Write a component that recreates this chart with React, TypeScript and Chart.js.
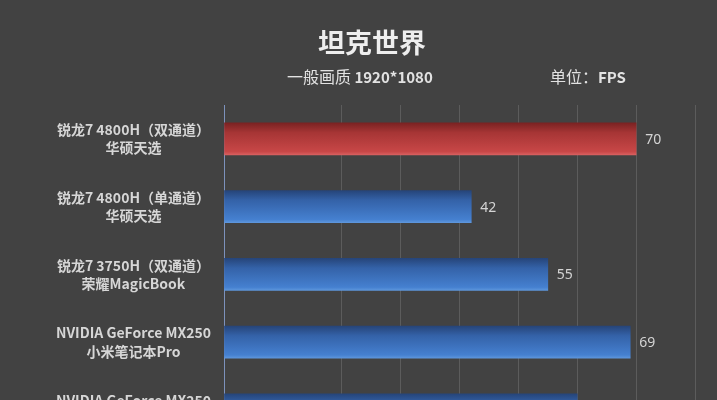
import React, { useEffect, useRef } from "react";
import { Chart, registerables } from "chart.js";

Chart.register(...registerables);

const categories: string[][] = [
  ["锐龙7 4800H（双通道）", "华硕天选"],
  ["锐龙7 4800H（单通道）", "华硕天选"],
  ["锐龙7 3750H（双通道）", "荣耀MagicBook"],
  ["NVIDIA GeForce MX250", "小米笔记本Pro"],
  ["NVIDIA GeForce MX250", ""],
];
const fpsValues: number[] = [70, 42, 55, 69, 60];
const highlightIndex = 0;

const chartTitle = "坦克世界";
const subtitleLeftA = "一般画质";
const subtitleLeftB = " 1920*1080";
const subtitleRightA = "单位：";
const subtitleRightB = "FPS";

const CJK = '"Noto Sans CJK SC", "Noto Sans", sans-serif';

const headerPlugin = {
  id: "header",
  afterDraw(chart: any) {
    const ctx = chart.ctx;
    ctx.save();
    ctx.fillStyle = "#eeeeee";
    ctx.textBaseline = "middle";
    ctx.textAlign = "center";
    ctx.font = `bold 27px ${CJK}`;
    ctx.fillText(chartTitle, 372, 43);

    const drawPair = (a: string, b: string, x: number, y: number) => {
      ctx.textAlign = "left";
      ctx.font = `16px ${CJK}`;
      ctx.fillStyle = "#e2e2e2";
      ctx.fillText(a, x, y);
      const w = ctx.measureText(a).width;
      ctx.font = `bold 15px ${CJK}`;
      ctx.fillText(b, x + w, y);
    };
    drawPair(subtitleLeftA, subtitleLeftB, 287, 77);
    drawPair(subtitleRightA, subtitleRightB, 550, 77);
    ctx.restore();
  },
};

const valueLabelPlugin = {
  id: "valueLabels",
  afterDatasetsDraw(chart: any) {
    const ctx = chart.ctx;
    const meta = chart.getDatasetMeta(0);
    ctx.save();
    ctx.font = `14px "Noto Sans", sans-serif`;
    ctx.fillStyle = "#d4d4d4";
    ctx.textAlign = "left";
    ctx.textBaseline = "middle";
    meta.data.forEach((bar: any, i: number) => {
      const v = chart.data.datasets[0].data[i];
      ctx.fillText(String(v), bar.x + 9, bar.y + 1);
    });
    ctx.restore();
  },
};

export default function App() {
  const ref = useRef<HTMLCanvasElement | null>(null);

  useEffect(() => {
    if (!ref.current) return;
    const chart = new Chart(ref.current, {
      type: "bar",
      data: {
        labels: categories,
        datasets: [
          {
            data: fpsValues,
            barThickness: 32,
            borderWidth: 0,
            backgroundColor: (c: any) => {
              const ch = c.chart;
              const isRed = c.dataIndex === highlightIndex;
              const fallback = isRed ? "#b83c3c" : "#3b6fbf";
              const ys = ch.scales && ch.scales.y;
              if (!ys || c.dataIndex === undefined) return fallback;
              const yc = ys.getPixelForValue(c.dataIndex);
              if (!Number.isFinite(yc)) return fallback;
              const g = ch.ctx.createLinearGradient(0, yc - 16, 0, yc + 16);
              if (isRed) {
                g.addColorStop(0, "#7a2222");
                g.addColorStop(0.3, "#a63535");
                g.addColorStop(0.9, "#c84747");
                g.addColorStop(1, "#d86060");
              } else {
                g.addColorStop(0, "#26457a");
                g.addColorStop(0.3, "#3462a8");
                g.addColorStop(0.9, "#4580d0");
                g.addColorStop(1, "#5d96dc");
              }
              return g;
            },
          },
        ],
      },
      options: {
        indexAxis: "y",
        responsive: false,
        animation: false,
        layout: { padding: { top: 105, bottom: 15, right: 22, left: 0 } },
        plugins: {
          legend: { display: false },
          title: { display: false },
          tooltip: { enabled: false },
        },
        scales: {
          x: {
            min: 0,
            max: 80,
            ticks: { display: false, stepSize: 10 },
            border: { display: false },
            grid: {
              drawTicks: false,
              lineWidth: 1,
              color: (c: any) => {
                const v = c.tick ? c.tick.value : 0;
                return v === 0 || v === 10 ? "rgba(0,0,0,0)" : "#5c5c5c";
              },
            },
            afterFit: (s: any) => {
              s.height = 0;
            },
          },
          y: {
            grid: { display: false, drawTicks: false },
            border: { display: true, color: "#7d92bc", width: 1 },
            ticks: {
              crossAlign: "center",
              padding: 13,
              color: "#d6d6d6",
              font: { family: CJK, size: 14, weight: "bold", lineHeight: 1.3 },
            },
            afterFit: (s: any) => {
              s.width = 224;
            },
          },
        },
      },
      plugins: [headerPlugin, valueLabelPlugin],
    } as any);
    return () => chart.destroy();
  }, []);

  return (
    <div
      style={{
        position: "fixed",
        left: 0,
        top: 0,
        width: 717,
        height: 400,
        overflow: "hidden",
        background: "#424242",
      }}
    >
      <canvas ref={ref} width={717} height={475} style={{ display: "block" }} />
    </div>
  );
}
